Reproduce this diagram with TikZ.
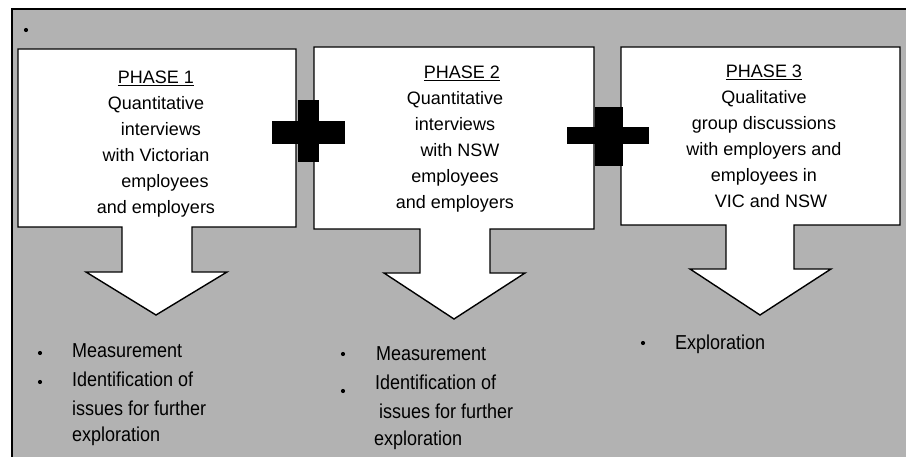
\documentclass[tikz,border=0pt]{standalone}
\usepackage{graphicx}
\usepackage{fontspec}
\setmainfont{Liberation Sans}
\definecolor{panelgray}{RGB}{178,178,178}
% outcome lines are set slightly taller than wide
\newcommand{\tallline}[1]{\scalebox{1}[1.12]{#1}}
\begin{document}
\begin{tikzpicture}[x=1pt,y=-1pt,line join=miter,
  phasebox/.style={draw=black,line width=1.4pt,fill=white},
  panel/.style={draw=black,line width=1.4pt,fill=panelgray},
  plusbar/.style={fill=black},
  boxtext/.style={align=center,inner sep=0pt,anchor=north,font=\fontsize{18}{26}\selectfont},
  itemtext/.style={inner sep=0pt,anchor=base west,font=\fontsize{18}{28}\selectfont},
  bulletdot/.style={circle,fill=black,inner sep=0pt,minimum size=4.2pt}]

\useasboundingbox (0,0) rectangle (906,457);
\clip (0,0) rectangle (906,457);
\fill[white] (0,0) rectangle (906,457);

% grey panel, running off the right and bottom edges
\draw[panel] (12,9) rectangle (940,490);
\node[bulletdot] (topdot) at (26,30) {};

% phase boxes, each with its own down arrow
\draw[phasebox] (18,49) -- (296,49) -- (296,227) -- (192,227) -- (192,272) -- (227,272)
  -- (156,315) -- (86,272) -- (122,272) -- (122,227) -- (18,227) -- cycle;
\draw[phasebox] (314,47) -- (594,47) -- (594,229) -- (490,229) -- (490,273) -- (525,273)
  -- (454,319) -- (384,273) -- (420,273) -- (420,229) -- (314,229) -- cycle;
\draw[phasebox] (621,47) -- (900,47) -- (900,225) -- (794,225) -- (794,269) -- (831,269)
  -- (760,315) -- (690,269) -- (726,269) -- (726,225) -- (621,225) -- cycle;

% plus signs between the phases
\fill[plusbar] (298,100) rectangle (319,162);
\fill[plusbar] (272,121) rectangle (345,144);
\fill[plusbar] (595,107) rectangle (623,166);
\fill[plusbar] (567,127) rectangle (649,144);

% phase descriptions
\node[boxtext] (phase1) at (156,71) {\underline{PHASE 1}\\Quantitative\\\hspace*{10pt}interviews\\with Victorian\\\hspace*{18pt}employees\\and employers};
\node[boxtext] (phase2) at (455,66) {\hspace*{14pt}\underline{PHASE 2}\\Quantitative\\interviews\\\hspace*{10pt}with NSW\\employees\\and employers};
\node[boxtext] (phase3) at (764,65) {\underline{PHASE 3}\\Qualitative\\group discussions\\with employers and\\employees in\\\hspace*{14pt}VIC and NSW};

% outcomes of phase 1
\node[bulletdot] (b1a) at (40,353) {};
\node[itemtext] (m1) at (72,358) {\tallline{Measurement}};
\node[bulletdot] (b1b) at (40,382) {};
\node[itemtext] (i1a) at (72,387) {\tallline{Identification of}};
\node[itemtext] (i1b) at (72,415) {\tallline{issues for further}};
\node[itemtext] (i1c) at (72,442) {\tallline{exploration}};

% outcomes of phase 2
\node[bulletdot] (b2a) at (343,354) {};
\node[itemtext] (m2) at (376,360) {\tallline{Measurement}};
\node[bulletdot] (b2b) at (343,391) {};
\node[itemtext] (i2a) at (375,390) {\tallline{Identification of}};
\node[itemtext] (i2b) at (379,418) {\tallline{issues for further}};
\node[itemtext] (i2c) at (374,445) {\tallline{exploration}};

% outcome of phase 3
\node[bulletdot] (b3a) at (643,343) {};
\node[itemtext] (e3) at (675,350) {\tallline{Exploration}};
\end{tikzpicture}
\end{document}
